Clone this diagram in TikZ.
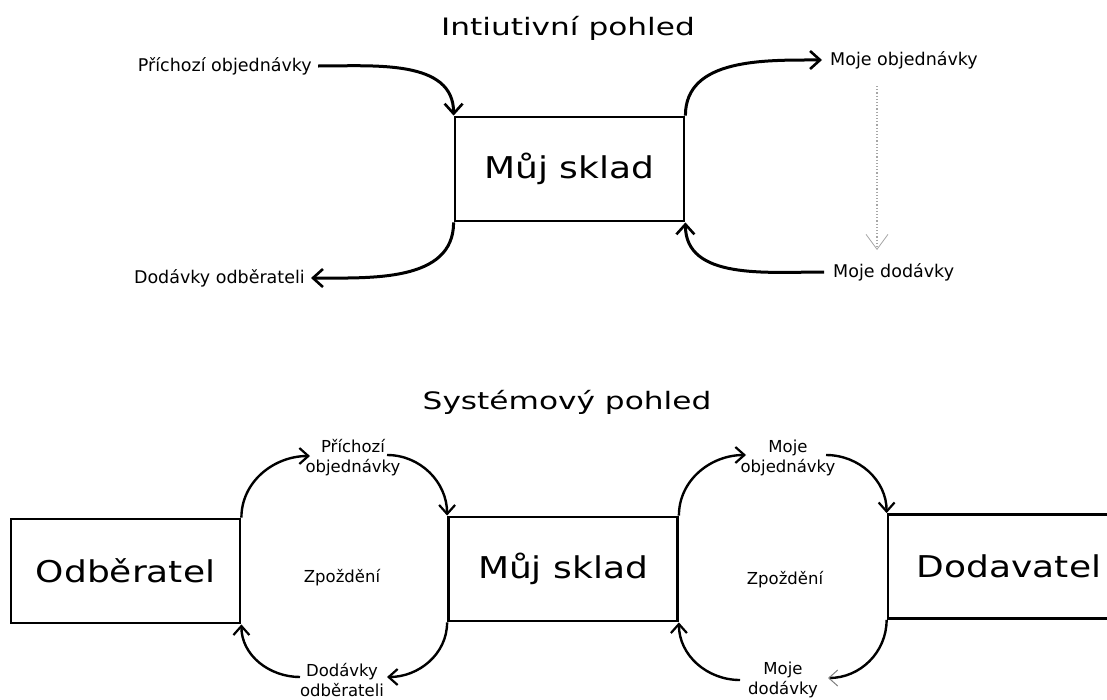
\documentclass[tikz,border=0pt]{standalone}
\usepackage{fontspec}
\setmainfont{DejaVu Sans}
\usetikzlibrary{arrows.meta}
\newcommand{\boxtxt}[1]{\scalebox{1.2}[1]{#1}}
\newcommand{\ttltxt}[1]{\scalebox{1.3}[1]{#1}}
\tikzset{
  box/.style={draw, line width=2.8pt, minimum width=229pt, minimum height=104pt, inner sep=0pt, font=\fontsize{30}{36}\selectfont},
  lbl/.style={inner sep=0pt, font=\fontsize{17.5}{21}\selectfont},
  lbl2/.style={inner sep=0pt, align=center, font=\fontsize{16.5}{20}\selectfont},
  ttl/.style={inner sep=0pt, font=\fontsize{24}{28}\selectfont},
  flow/.style={line width=3pt, -{Straight Barb[length=10pt,width=18pt,line width=2.6pt]}},
  flowb/.style={line width=2.4pt, -{Straight Barb[length=9pt,width=16pt,line width=2.2pt]}},
  flowt/.style={line width=2.4pt, -{Straight Barb[length=9pt,width=16pt,line width=1pt,color=gray]}},
  hint/.style={gray!70, dotted, line width=1.2pt, -{Straight Barb[length=15pt,width=22pt,line width=0.8pt]}}
}
\begin{document}
\begin{tikzpicture}[x=1pt,y=-1pt]
\useasboundingbox (0,0) rectangle (1107,699);
\clip (0,0) rectangle (1107,699);
% ---------- Intuitive view ----------
\node[ttl] (t1) at (568,28) {\ttltxt{Intiutivní pohled}};
\node[box] (s1) at (569.5,169) {\boxtxt{Můj sklad}};
\node[lbl, anchor=east] (po) at (312,66) {Příchozí objednávky};
\node[lbl, anchor=east] (do) at (305,278) {Dodávky odběrateli};
\node[lbl, anchor=west] (mo) at (830,60) {Moje objednávky};
\node[lbl, anchor=west] (md) at (833,272) {Moje dodávky};
\draw[flow] ([xshift=6pt]po.east) to[out=0,in=90] (s1.north west);
\draw[flow] (s1.south west) to[out=-90,in=0] ([xshift=6pt]do.east);
\draw[flow] (s1.north east) to[out=90,in=180] ([xshift=-8pt]mo.west);
\draw[flow] ([xshift=-9pt]md.west) to[out=180,in=-90] (s1.south east);
\coordinate (h1) at (877,86);
\coordinate (h2) at (877,250);
\draw[hint] (h1) -- (h2);
% ---------- System view ----------
\node[ttl] (t2) at (567,402) {\ttltxt{Systémový pohled}};
\node[box] (odb) at (125.5,571) {\boxtxt{Odběratel}};
\node[box] (s2) at (563,569) {\boxtxt{Můj sklad}};
\node[box, minimum width=242pt] (dod) at (1009,566.5) {\boxtxt{Dodavatel}};
\node[lbl2] (po2) at (353,458) {Příchozí\\objednávky};
\node[lbl2] (do2) at (342,680) {Dodávky\\odběrateli};
\node[lbl2] (mo2) at (788,458) {Moje\\objednávky};
\node[lbl2] (md2) at (783,680) {Moje\\dodávky};
\node[lbl2] (z1) at (342,578) {Zpoždění};
\node[lbl2] (z2) at (785,580) {Zpoždění};
\draw[flowb] (odb.north east) to[out=90,in=180] (310,456) coordinate (a1);
\coordinate (a2) at (387,455);
\draw[flowb] (a2) to[out=0,in=90] (s2.north west);
\draw[flowb] (s2.south west) to[out=-90,in=0] (387,677) coordinate (a3);
\coordinate (a4) at (300,677);
\draw[flowb] (a4) to[out=180,in=-90] (odb.south east);
\draw[flowb] (s2.north east) to[out=90,in=180] (746,455) coordinate (b1);
\coordinate (b2) at (826,455);
\draw[flowb] (b2) to[out=0,in=90] (dod.north west);
\draw[flowt] (dod.south west) to[out=-90,in=0] (828,678) coordinate (b3);
\coordinate (b4) at (740,680);
\draw[flowb] (b4) to[out=180,in=-90] (s2.south east);
\end{tikzpicture}
\end{document}
